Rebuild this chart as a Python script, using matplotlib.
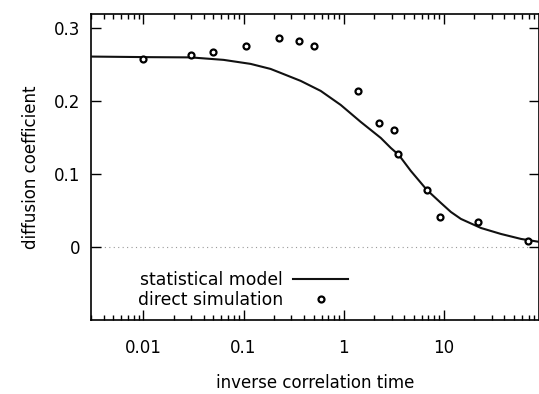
import matplotlib
matplotlib.use("Agg")
import matplotlib.pyplot as plt
from matplotlib.ticker import LogLocator, FixedLocator, NullFormatter, FixedFormatter

# statistical model curve
model_x = [0.00302, 0.01175, 0.0295, 0.0631, 0.1175, 0.186, 0.234, 0.372, 0.589, 0.933,
           1.479, 2.344, 2.951, 3.548, 4.677, 6.761, 9.333, 11.75, 14.79, 23.44, 37.15,
           58.88, 91.2]
model_y = [0.2607, 0.2599, 0.2596, 0.2562, 0.2507, 0.2438, 0.2384, 0.2274, 0.2137, 0.1945,
           0.1712, 0.1493, 0.1356, 0.1260, 0.1041, 0.0781, 0.0603, 0.0479, 0.0384, 0.0260,
           0.0178, 0.0110, 0.0068]

# direct simulation points
sim_x = [0.01, 0.03, 0.05, 0.105, 0.224, 0.355, 0.51, 1.38, 2.24, 3.16, 3.5, 6.8, 9.1, 22, 69]
sim_y = [0.2575, 0.263, 0.267, 0.275, 0.286, 0.282, 0.275, 0.214, 0.170, 0.160, 0.127,
         0.078, 0.041, 0.034, 0.008]

xticks = [0.01, 0.1, 1, 10]
xticklabels = ["0.01", "0.1", "1", "10"]
yticks = [0, 0.1, 0.2, 0.3]
yticklabels = ["0", "0.1", "0.2", "0.3"]

plt.rcParams['font.family'] = ['DejaVu Sans']
fig = plt.figure(figsize=(5.39, 3.94), dpi=100)
ax = fig.add_axes([91/539, 74/394, 448/539, 306/394])

ax.axhline(0, color='#999999', lw=0.8, ls=(0, (1, 3)), zorder=1)
ax.plot(model_x, model_y, color='#111111', lw=1.5, label='statistical model', zorder=3,
        solid_joinstyle='round')
ax.plot(sim_x, sim_y, ls='none', marker='o', ms=4.3, mfc='white', mec='black', mew=1.6,
        label='direct simulation', zorder=4)

ax.set_xscale('log')
ax.set_xlim(0.003, 89)
ax.set_ylim(-0.1, 0.319)
ax.xaxis.set_major_locator(FixedLocator(xticks))
ax.xaxis.set_major_formatter(FixedFormatter(xticklabels))
ax.xaxis.set_minor_locator(LogLocator(base=10, subs=range(2, 10)))
ax.xaxis.set_minor_formatter(NullFormatter())
ax.yaxis.set_major_locator(FixedLocator(yticks))
ax.yaxis.set_major_formatter(FixedFormatter(yticklabels))

ax.tick_params(which='both', direction='in', top=True, right=True, labelsize=12, width=1.0)
ax.tick_params(which='major', length=7)
ax.tick_params(which='minor', length=3.6)
ax.tick_params(axis='x', pad=14)
ax.tick_params(axis='y', pad=8)
for s in ax.spines.values():
    s.set_linewidth(1.2)

ax.set_xlabel('inverse correlation time', fontsize=12, labelpad=12)
ax.set_ylabel('diffusion coefficient', fontsize=12, labelpad=10)

leg = ax.legend(loc='center', bbox_to_anchor=(0.339, 0.098), frameon=False, markerfirst=False,
                fontsize=12.4, handlelength=3.2, handletextpad=0.6, labelspacing=0.15,
                borderpad=0, borderaxespad=0)
for t in leg.get_texts():
    t.set_ha('right')

fig.savefig('out.png', dpi=100)
